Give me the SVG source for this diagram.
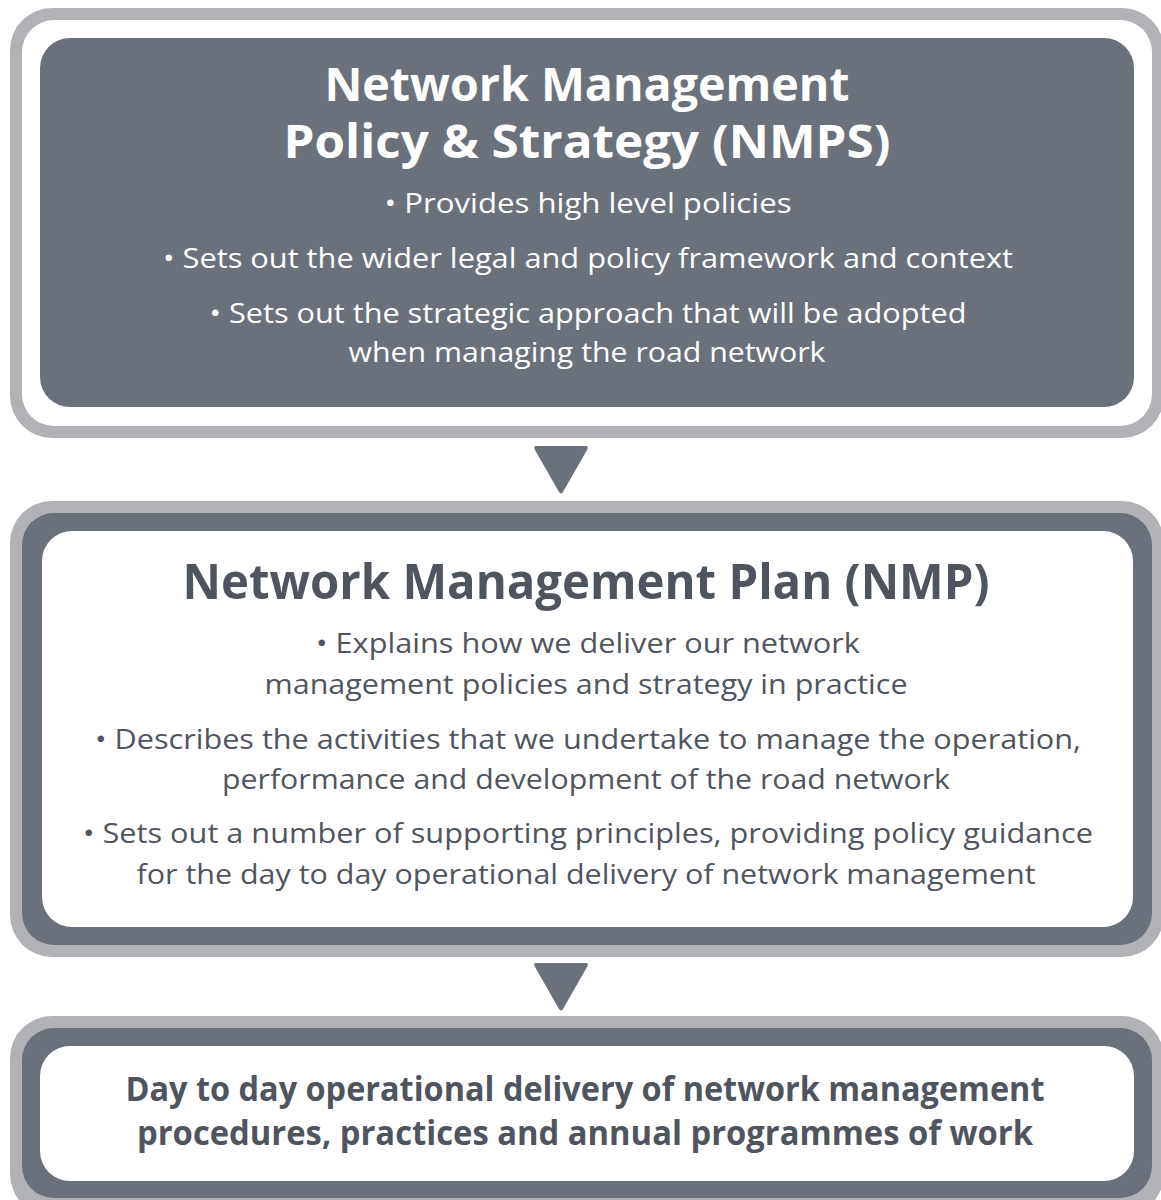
<svg xmlns="http://www.w3.org/2000/svg" width="1161" height="1200" viewBox="0 0 1161 1200">
  <style>
    .frame { fill: #b1b2b6; }
    .dark { fill: #6b717a; }
    .light { fill: #ffffff; }
    text { font-family: "Open Sans", "Noto Sans", sans-serif; text-anchor: middle; }
    .title { font-weight: 700; font-size: 49px; }
    .title.stacked { font-size: 46px; }
    .body { font-size: 28px; }
    .lead { font-weight: 700; font-size: 34px; }
    .onDark { fill: #ffffff; }
    .onLight { fill: #4f555e; }
  </style>
  <defs>
    <path id="arrowHead" d="M-25,-16 Q-28,-16 -26,-12 L-2,30 Q0,33 2,30 L26,-12 Q28,-16 25,-16 Z"/>
  </defs>

  <!-- NMPS: strategy level -->
  <g id="nmps">
    <rect class="frame" x="10" y="8" width="1154" height="430" rx="42"/>
    <rect class="light" x="22" y="20" width="1130" height="406" rx="32"/>
    <rect class="dark" x="40" y="38" width="1094" height="369" rx="30"/>
    <text class="title stacked onDark" x="587" y="101" textLength="525" lengthAdjust="spacingAndGlyphs">Network Management</text>
    <text class="title stacked onDark" x="587" y="158" textLength="607" lengthAdjust="spacingAndGlyphs">Policy &amp; Strategy (NMPS)</text>
    <text class="body onDark" x="588" y="213" textLength="407" lengthAdjust="spacingAndGlyphs">• Provides high level policies</text>
    <text class="body onDark" x="588" y="268" textLength="850" lengthAdjust="spacingAndGlyphs">• Sets out the wider legal and policy framework and context</text>
    <text class="body onDark" x="588" y="323" textLength="757" lengthAdjust="spacingAndGlyphs">• Sets out the strategic approach that will be adopted</text>
    <text class="body onDark" x="587" y="362" textLength="477" lengthAdjust="spacingAndGlyphs">when managing the road network</text>
  </g>

  <!-- NMP: plan level -->
  <g id="nmp">
    <rect class="frame" x="10" y="501" width="1154" height="456" rx="42"/>
    <rect class="dark" x="22" y="513" width="1130" height="432" rx="32"/>
    <rect class="light" x="42" y="531" width="1091" height="396" rx="30"/>
    <text class="title onLight" x="586" y="599" textLength="807" lengthAdjust="spacingAndGlyphs">Network Management Plan (NMP)</text>
    <text class="body onLight" x="588" y="653" textLength="544" lengthAdjust="spacingAndGlyphs">• Explains how we deliver our network</text>
    <text class="body onLight" x="586" y="694" textLength="643" lengthAdjust="spacingAndGlyphs">management policies and strategy in practice</text>
    <text class="body onLight" x="588" y="749" textLength="986" lengthAdjust="spacingAndGlyphs">• Describes the activities that we undertake to manage the operation,</text>
    <text class="body onLight" x="586" y="789" textLength="728" lengthAdjust="spacingAndGlyphs">performance and development of the road network</text>
    <text class="body onLight" x="588" y="843" textLength="1010" lengthAdjust="spacingAndGlyphs">• Sets out a number of supporting principles, providing policy guidance</text>
    <text class="body onLight" x="586" y="884" textLength="899" lengthAdjust="spacingAndGlyphs">for the day to day operational delivery of network management</text>
  </g>

  <!-- Operational delivery level -->
  <g id="delivery">
    <rect class="frame" x="10" y="1016" width="1154" height="200" rx="42"/>
    <rect class="dark" x="22" y="1028" width="1130" height="170" rx="32"/>
    <rect class="light" x="40" y="1046" width="1094" height="135" rx="30"/>
    <text class="lead onLight" x="585" y="1101" textLength="919" lengthAdjust="spacingAndGlyphs">Day to day operational delivery of network management</text>
    <text class="lead onLight" x="585" y="1145" textLength="896" lengthAdjust="spacingAndGlyphs">procedures, practices and annual programmes of work</text>
  </g>

  <!-- Downward arrows between levels -->
  <g id="connectors" class="dark">
    <use href="#arrowHead" x="561" y="462"/>
    <use href="#arrowHead" x="561" y="979"/>
  </g>
</svg>
